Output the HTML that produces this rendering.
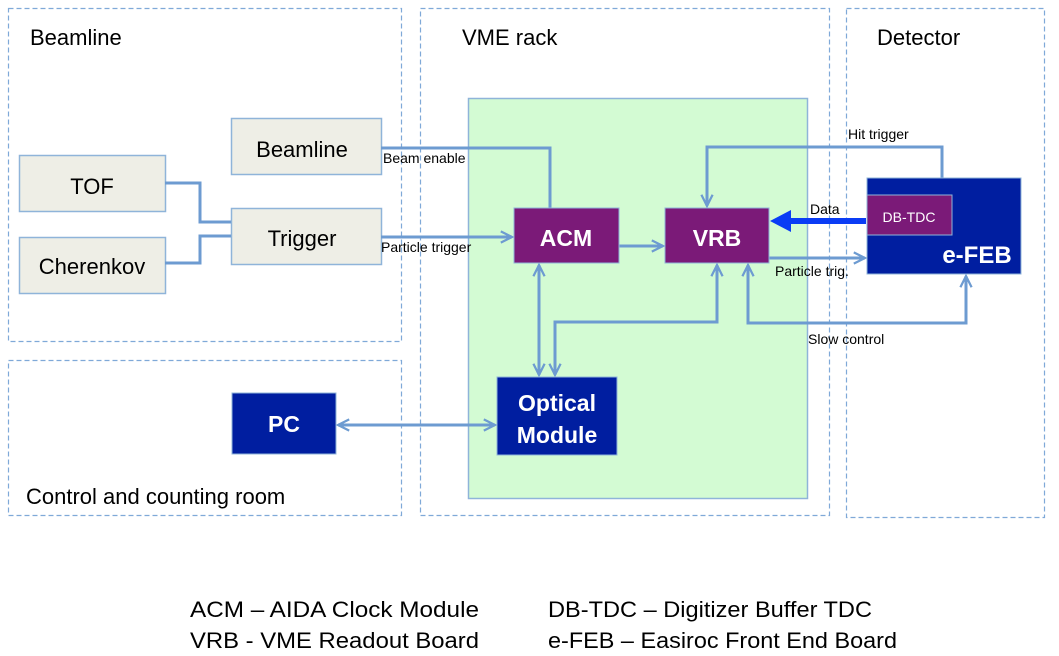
<!DOCTYPE html>
<html><head><meta charset="utf-8"><style>body{margin:0;background:#fff}svg{display:block}text{font-family:"Liberation Sans",sans-serif}</style></head>
<body>
<svg width="1059" height="656" viewBox="0 0 1059 656" xmlns="http://www.w3.org/2000/svg">
<defs>
<marker id="a" viewBox="0 0 10 10" refX="9" refY="5" markerWidth="14" markerHeight="14" markerUnits="userSpaceOnUse" orient="auto-start-reverse"><path d="M1,1 L9,5 L1,9" fill="none" stroke="#6d9bd1" stroke-width="1.6"/></marker>
</defs>
<g fill="none" stroke="#7fa9d8" stroke-width="1.2" stroke-dasharray="5,3">
<rect x="8.5" y="8.5" width="393" height="333"/>
<rect x="8.5" y="360.5" width="393" height="155"/>
<rect x="420.5" y="8.5" width="409" height="507"/>
<rect x="846.5" y="8.5" width="198" height="509"/>
</g>
<rect x="468.5" y="98.5" width="339" height="400" fill="#d3fbd3" stroke="#8fb4d9" stroke-width="1.5"/>
<g font-size="22" fill="#000">
<text x="30" y="45">Beamline</text>
<text x="462" y="45">VME rack</text>
<text x="877" y="45">Detector</text>
<text x="26" y="504">Control and counting room</text>
</g>
<g fill="#eeeee6" stroke="#8fb4d9" stroke-width="1.5">
<rect x="231.5" y="118.5" width="150" height="56"/>
<rect x="231.5" y="208.5" width="150" height="56"/>
<rect x="19.5" y="155.5" width="146" height="56"/>
<rect x="19.5" y="237.5" width="146" height="56"/>
</g>
<g font-size="22" fill="#000" text-anchor="middle">
<text x="302" y="157">Beamline</text>
<text x="302" y="246">Trigger</text>
<text x="92" y="194">TOF</text>
<text x="92" y="274">Cherenkov</text>
</g>
<g fill="none" stroke="#6d9bd1" stroke-width="3">
<path d="M165,183 H200 V222 H231"/>
<path d="M165,263 H200 V236 H231"/>
<path d="M381,148 H550 V208"/>
<path d="M381,237 H512" marker-end="url(#a)"/>
<path d="M619,246 H663" marker-end="url(#a)"/>
<path d="M942,178 V147 H707 V206" marker-end="url(#a)"/>
<path d="M769,258 H865" marker-end="url(#a)"/>
<path d="M748,265 V323 H966 V276" marker-start="url(#a)" marker-end="url(#a)"/>
<path d="M717,265 V322 H555 V375" marker-start="url(#a)" marker-end="url(#a)"/>
<path d="M539,265 V375" marker-start="url(#a)" marker-end="url(#a)"/>
<path d="M338,425 H495" marker-start="url(#a)" marker-end="url(#a)"/>
</g>
<rect x="514" y="208" width="105" height="55" fill="#7b1a78" stroke="#8fb4d9"/>
<rect x="665" y="208" width="104" height="55" fill="#7b1a78" stroke="#8fb4d9"/>
<rect x="867" y="178" width="154" height="96" fill="#001ea0" stroke="#8fb4d9"/>
<rect x="867" y="195" width="85" height="40" fill="#7b1a78" stroke="#8fb4d9"/>
<rect x="497" y="377" width="120" height="78" fill="#001ea0" stroke="#8fb4d9"/>
<rect x="232" y="393" width="104" height="61" fill="#001ea0" stroke="#8fb4d9"/>
<path d="M866,221 H790" stroke="#0a3cf5" stroke-width="6"/>
<path d="M770,221 L791,210 L791,232 Z" fill="#0a3cf5"/>
<g fill="#fff" font-weight="bold" text-anchor="middle">
<text x="566" y="246" font-size="23">ACM</text>
<text x="717" y="246" font-size="23">VRB</text>
<text x="909" y="222" font-size="14" font-weight="normal">DB-TDC</text>
<text x="977" y="263" font-size="24">e-FEB</text>
<text x="557" y="411" font-size="23">Optical</text>
<text x="557" y="443" font-size="23">Module</text>
<text x="284" y="432" font-size="23">PC</text>
</g>
<g font-size="14" fill="#000">
<text x="383" y="163">Beam enable</text>
<text x="381" y="252">Particle trigger</text>
<text x="848" y="139">Hit trigger</text>
<text x="810" y="214">Data</text>
<text x="775" y="276">Particle trig.</text>
<text x="808" y="344">Slow control</text>
</g>
<g font-size="22" fill="#000">
<text x="190" y="617" textLength="289" lengthAdjust="spacingAndGlyphs">ACM – AIDA Clock Module</text>
<text x="190" y="648" textLength="289" lengthAdjust="spacingAndGlyphs">VRB  - VME Readout Board</text>
<text x="548" y="617" textLength="324" lengthAdjust="spacingAndGlyphs">DB-TDC – Digitizer Buffer TDC</text>
<text x="548" y="648" textLength="349" lengthAdjust="spacingAndGlyphs">e-FEB – Easiroc Front End Board</text>
</g>
</svg>
</body></html>
